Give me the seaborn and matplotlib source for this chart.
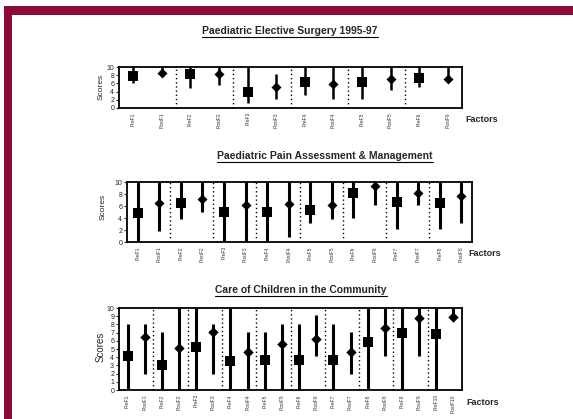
import numpy as np
import pandas as pd
import matplotlib
matplotlib.use("Agg")
import matplotlib.pyplot as plt
import seaborn as sns
from matplotlib.lines import Line2D
from matplotlib.patches import Rectangle

# panel 1: Paediatric Elective Surgery 1995-97 (6 factors)
surg_labels = ["PreF1", "PostF1", "PreF2", "PostF2", "PreF3", "PostF3",
               "PreF4", "PostF4", "PreF5", "PostF5", "PreF6", "PostF6"]
surg_score = [7.8, 8.6, 8.2, 8.4, 3.8, 5.0, 6.4, 5.8, 6.4, 7.0, 7.2, 7.0]
surg_low = [6.0, 8.0, 4.8, 5.6, 1.2, 2.2, 3.2, 2.2, 2.2, 4.4, 5.2, 6.8]
surg_high = [10, 10, 10, 10, 10, 8.2, 10, 10, 10, 10, 10, 10]

# panel 2: Paediatric Pain Assessment & Management (8 factors)
pain_labels = ["PreF1", "PostF1", "PreF2", "PostF2", "PreF3", "PostF3",
               "PreF4", "PostF4", "PreF5", "PostF5", "PreF6", "PostF6",
               "PreF7", "PostF7", "PreF8", "PostF8"]
pain_score = [4.8, 6.5, 6.5, 7.2, 5.0, 6.1, 5.0, 6.3, 5.4, 6.2, 8.2, 9.3, 6.7, 8.2, 6.5, 7.6]
pain_low = [0, 1.9, 3.8, 5.0, 0, 0, 0, 0.9, 3.1, 3.9, 4.0, 6.1, 2.1, 6.1, 2.2, 3.2]
pain_high = [10] * 16

# panel 3: Care of Children in the Community (10 factors)
comm_labels = ["PreF1", "PostF1", "PreF2", "PostF2", "PreF3", "PostF3",
               "PreF4", "PostF4", "PreF5", "PostF5", "PreF6", "PostF6",
               "PreF7", "PostF7", "PreF8", "PostF8", "PreF9", "PostF9",
               "PreF10", "PostF10"]
comm_score = [4.1, 6.5, 3.0, 5.1, 5.3, 7.1, 3.5, 4.6, 3.6, 5.6,
              3.7, 6.2, 3.7, 4.6, 5.8, 7.6, 6.9, 8.8, 6.8, 8.9]
comm_low = [0, 2.0, 0, 0, 0, 2.0, 0, 0, 0, 0,
            0, 4.1, 0, 2.0, 0, 4.1, 0, 4.1, 0, 8.4]
comm_high = [8.0, 8.0, 7.1, 10, 10, 8.0, 10, 7.1, 7.1, 8.0,
             8.0, 9.1, 8.0, 7.1, 10, 10, 10, 10, 10, 10]

sns.set_style("white")
plt.rcParams["font.family"] = ["Liberation Sans", "DejaVu Sans"]

W, H = 573, 419
fig = plt.figure(figsize=(W / 100, H / 100), dpi=100)

# maroon frame on top and left
fig.add_artist(Rectangle((4 / W, 1 - 15 / H), 1, 9 / H, transform=fig.transFigure,
                         color="#8b0d37", lw=0))
fig.add_artist(Rectangle((4 / W, 0), 8 / W, 1 - 6 / H, transform=fig.transFigure,
                         color="#8b0d37", lw=0))


def px_box(l, t, r, b):
    return [l / W, 1 - b / H, (r - l) / W, (b - t) / H]


panels = [
    dict(title="Paediatric Elective Surgery 1995-97", labels=surg_labels, score=surg_score,
         low=surg_low, high=surg_high, box=(119, 67, 462, 108), yt=np.arange(0, 11, 2),
         tpos=(290, 31), spos=(101, 87), fpos=(482, 120), ms=(46, 26), lw=1.8, sfs=6),
    dict(title="Paediatric Pain Assessment & Management", labels=pain_labels, score=pain_score,
         low=pain_low, high=pain_high, box=(127, 182, 472, 242), yt=np.arange(0, 11, 2),
         tpos=(325, 156), spos=(103, 207), fpos=(485, 253), ms=(50, 26), lw=2.2, sfs=6),
    dict(title="Care of Children in the Community", labels=comm_labels, score=comm_score,
         low=comm_low, high=comm_high, box=(119, 308, 462, 390), yt=np.arange(0, 11, 1),
         tpos=(301, 290), spos=(101, 347), fpos=(483, 402), ms=(54, 28), lw=2.2, sfs=7),
]

fig.canvas.draw()
renderer = fig.canvas.get_renderer()

for p in panels:
    ax = fig.add_axes(px_box(*p["box"]))
    n = len(p["labels"])
    df = pd.DataFrame({
        "pos": np.arange(n),
        "score": p["score"],
        "low": p["low"],
        "high": p["high"],
        "phase": ["Pre" if lab.startswith("Pre") else "Post" for lab in p["labels"]],
    })
    # range bars, then the score markers on top
    ax.vlines(df["pos"], df["low"], df["high"], color="black", lw=p["lw"], zorder=2)
    pre = df[df["phase"] == "Pre"]
    post = df[df["phase"] == "Post"]
    sns.scatterplot(data=pre, x="pos", y="score", marker="s", color="black",
                    s=p["ms"][0], linewidth=0, ax=ax, zorder=3, legend=False)
    sns.scatterplot(data=post, x="pos", y="score", marker="D", color="black",
                    s=p["ms"][1], linewidth=0, ax=ax, zorder=3, legend=False)
    # dotted separators between factor pairs
    for b in np.arange(1.5, n - 1, 2):
        ax.axvline(b, color="black", ls=(0, (1, 2)), lw=1.0, zorder=1)
    ax.set_xlim(-0.5, n - 0.5)
    ax.set_ylim(0, 10)
    ax.set_yticks(p["yt"])
    ax.set_yticklabels([str(int(v)) for v in p["yt"]], fontsize=5)
    ax.set_xticks(np.arange(n))
    ax.set_xticklabels(p["labels"], rotation=90, fontsize=3.5, color="#333333")
    ax.set_xticks(np.arange(1.5, n - 1, 2), minor=True)
    ax.tick_params(axis="x", which="major", length=0, pad=3)
    ax.tick_params(axis="x", which="minor", length=3, width=1, direction="inout")
    ax.tick_params(axis="y", length=2, width=0.8, pad=1.5, left=True)
    ax.set_xlabel("")
    ax.set_ylabel("")
    for sp in ax.spines.values():
        sp.set_linewidth(1.3)
        sp.set_color("black")

    tx, ty = p["tpos"]
    t = fig.text(tx / W, 1 - ty / H, p["title"], ha="center", va="center",
                 fontsize=7.5, fontweight="bold")
    bb = t.get_window_extent(renderer=renderer)
    fig.add_artist(Line2D([bb.x0 / W, bb.x1 / W], [(bb.y0 - 1) / H, (bb.y0 - 1) / H],
                          transform=fig.transFigure, color="black", lw=0.8))
    sx, sy = p["spos"]
    fig.text(sx / W, 1 - sy / H, "Scores", rotation=90, ha="center", va="center",
             fontsize=p["sfs"])
    fx, fy = p["fpos"]
    fig.text(fx / W, 1 - fy / H, "Factors", ha="center", va="center",
             fontsize=6.5, fontweight="bold")

fig.savefig("out.png", dpi=100)
